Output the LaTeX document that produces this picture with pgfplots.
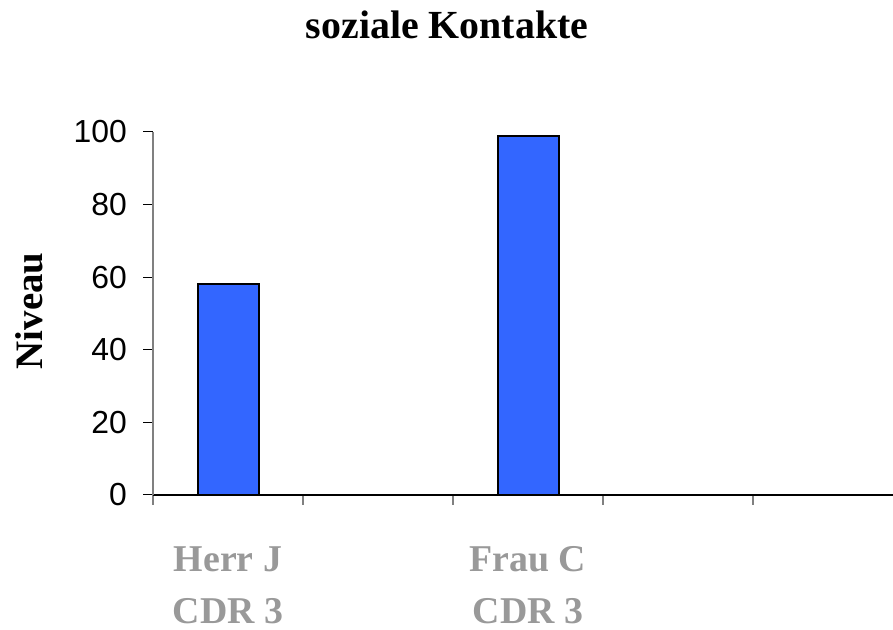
\documentclass[border=0pt]{standalone}
\usepackage{fontspec}
\setmainfont{Liberation Serif}
\newfontfamily\arial{Liberation Sans}
\usepackage{pgfplots}
\pgfplotsset{compat=1.18}
\definecolor{barblue}{HTML}{3366FF}
\definecolor{axgray}{HTML}{808080}
\definecolor{labgray}{HTML}{999999}
\begin{document}
\begin{tikzpicture}[x=1bp,y=1bp]
\path[use as bounding box] (0,0) rectangle (893,630);
\begin{axis}[
  at={(153bp,135bp)}, anchor=south west,
  scale only axis, width=740bp, height=363bp,
  xmin=-0.5, xmax=4.4333, ymin=0, ymax=100,
  axis x line*=bottom, axis y line*=left,
  x axis line style={black, line width=1.2pt, -},
  y axis line style={axgray, line width=1.2pt, -},
  tick align=outside,
  major tick length=10bp,
  xtick={-0.5,0.5,1.5,2.5,3.5},
  xticklabels={},
  x tick style={axgray, line width=1.2pt},
  ytick={0,20,...,100},
  y tick style={black, line width=1pt},
  yticklabel style={font=\arial\fontsize{32}{32}\selectfont, inner sep=0pt, xshift=-16bp},
  /pgf/number format/assume math mode=true,
  extra x ticks={0,2},
  extra x tick labels={Herr J\\[0pt]CDR 3, Frau C\\[0pt]CDR 3},
  extra x tick style={major tick length=0pt,
    tick label style={font=\bfseries\fontsize{38}{52}\selectfont, text=labgray, align=center, anchor=north, yshift=-48bp}},
  ybar, bar width=61bp,
  clip=false,
]
\addplot[fill=barblue, draw=black, line width=2pt] coordinates {(0,58) (2,99)};
\end{axis}
\node[anchor=base, font=\bfseries\fontsize{40}{40}\selectfont] at (447,591) {soziale Kontakte};
\node[anchor=base, rotate=90, font=\bfseries\fontsize{39}{39}\selectfont] at (42,319) {Niveau};
\end{tikzpicture}
\end{document}
